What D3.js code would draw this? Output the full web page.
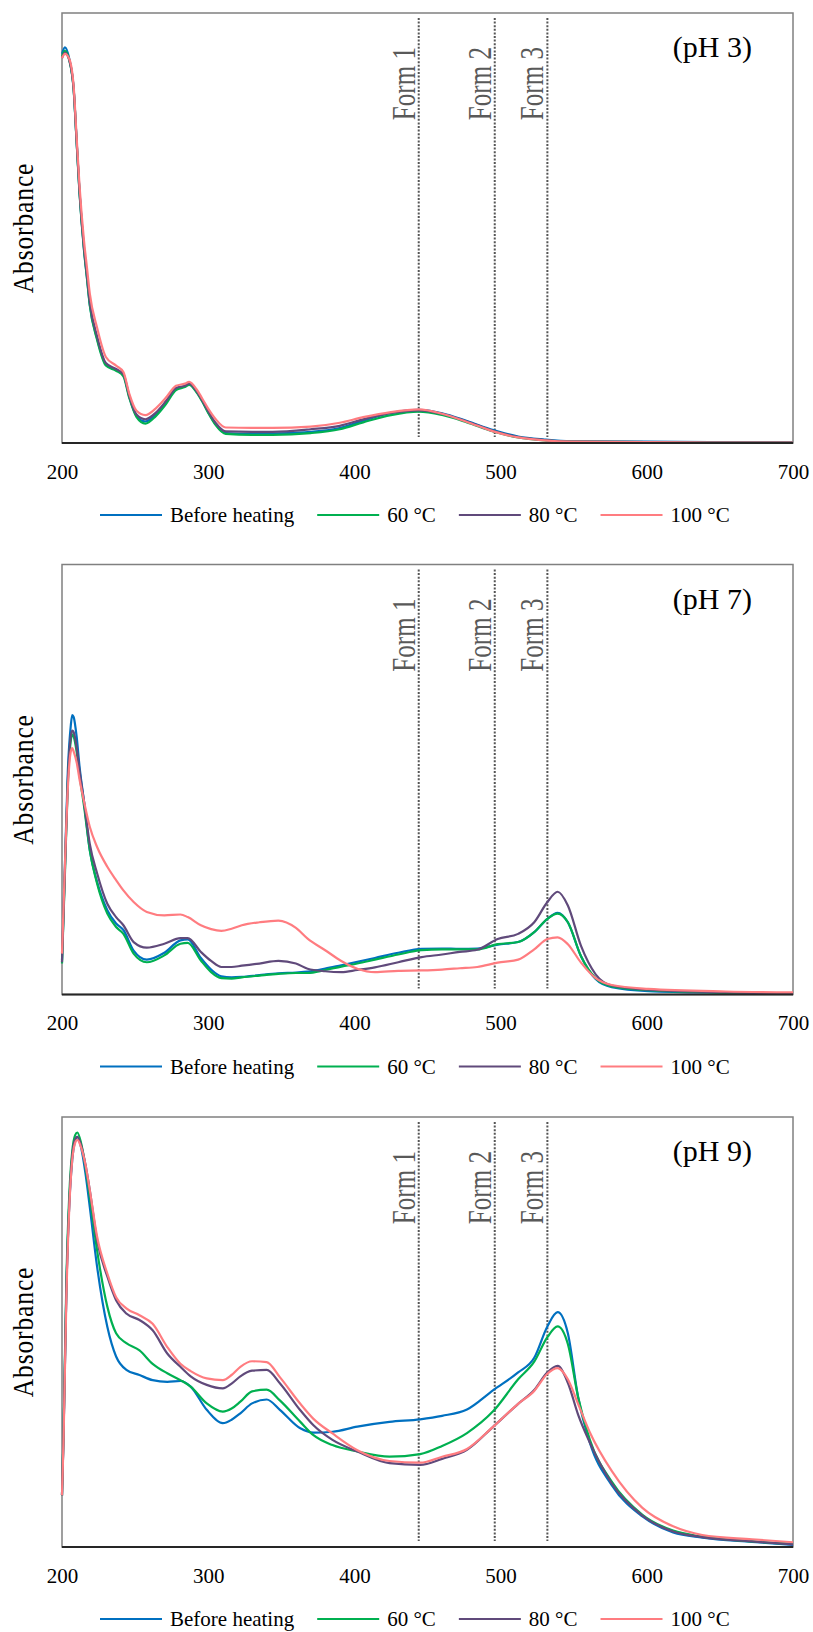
<!DOCTYPE html>
<html>
<head>
<meta charset="utf-8">
<script src="https://cdn.jsdelivr.net/npm/d3@7"></script>
<style>
body { margin: 0; background: #fff; }
svg { display: block; }
svg text { font-family: "Liberation Serif", "Times New Roman", serif !important; }
</style>
</head>
<body>
<script>
// tick labels, legend names, marker lines
var wavelengthTicks = [200, 300, 400, 500, 600, 700];
var seriesNames = ["Before heating", "60 °C", "80 °C", "100 °C"];
var formPositions = [444, 496, 532];
var formNames = ["Form 1", "Form 2", "Form 3"];
var panelNames = ["(pH 3)", "(pH 7)", "(pH 9)"];

// pH 3 (absorbance in arbitrary units, 0..1 of the panel)
var wl3 = [200,202,205,208,210,212,215,217,219,224,230,237,242,246,251,257,264,271,278,284,287,292,296,300,305,312,330,344,370,390,406,425,444,460,477,495,512,530,548,600,650,700];
var ph3Before = [0.905,0.920,0.893,0.822,0.702,0.582,0.452,0.387,0.322,0.243,0.183,0.170,0.158,0.108,0.063,0.050,0.066,0.094,0.126,0.132,0.137,0.120,0.098,0.072,0.044,0.023,0.021,0.022,0.026,0.035,0.052,0.070,0.077,0.069,0.051,0.030,0.015,0.008,0.004,0.003,0.002,0.002];
var ph3At60 = [0.900,0.912,0.890,0.820,0.700,0.580,0.450,0.385,0.320,0.240,0.180,0.168,0.155,0.105,0.060,0.045,0.062,0.090,0.123,0.130,0.135,0.118,0.096,0.070,0.042,0.021,0.019,0.019,0.023,0.032,0.048,0.065,0.073,0.065,0.048,0.027,0.013,0.006,0.003,0.002,0.001,0.001];
var ph3At80 = [0.895,0.908,0.890,0.822,0.703,0.585,0.456,0.392,0.328,0.248,0.186,0.172,0.160,0.110,0.066,0.055,0.070,0.097,0.128,0.133,0.138,0.121,0.099,0.074,0.047,0.027,0.026,0.026,0.032,0.040,0.055,0.070,0.076,0.068,0.050,0.028,0.014,0.007,0.003,0.002,0.001,0.001];
var ph3At100 = [0.895,0.905,0.893,0.828,0.712,0.598,0.472,0.410,0.348,0.268,0.200,0.180,0.165,0.115,0.075,0.065,0.080,0.105,0.133,0.138,0.142,0.125,0.103,0.080,0.056,0.036,0.035,0.035,0.038,0.047,0.060,0.072,0.078,0.068,0.049,0.027,0.013,0.006,0.003,0.002,0.001,0.001];

// pH 7
var wl7 = [200,202,204,206,207,208,210,212,215,219,224,231,237,242,249,258,270,281,286,295,302,309,316,323,335,348,360,368,380,391,402,414,430,446,460,472,484,498,512,523,532,539,546,555,565,576,601,654,700];
var ph7Before = [0.080,0.300,0.520,0.625,0.650,0.645,0.600,0.530,0.450,0.336,0.262,0.196,0.165,0.150,0.102,0.081,0.097,0.126,0.128,0.085,0.058,0.042,0.040,0.041,0.045,0.049,0.051,0.053,0.060,0.068,0.076,0.085,0.097,0.106,0.107,0.106,0.107,0.116,0.122,0.145,0.176,0.190,0.168,0.089,0.036,0.017,0.008,0.004,0.002];
var ph7At60 = [0.072,0.280,0.490,0.590,0.605,0.600,0.565,0.510,0.440,0.336,0.258,0.188,0.157,0.141,0.095,0.075,0.091,0.118,0.120,0.079,0.052,0.038,0.037,0.040,0.044,0.048,0.050,0.050,0.057,0.065,0.072,0.081,0.093,0.103,0.105,0.105,0.105,0.117,0.122,0.145,0.176,0.188,0.168,0.089,0.038,0.019,0.010,0.004,0.002];
var ph7At80 = [0.075,0.290,0.500,0.600,0.614,0.610,0.575,0.520,0.450,0.350,0.282,0.211,0.180,0.161,0.122,0.109,0.118,0.131,0.131,0.099,0.078,0.064,0.064,0.067,0.072,0.078,0.072,0.060,0.054,0.052,0.057,0.063,0.075,0.087,0.093,0.099,0.104,0.129,0.141,0.168,0.215,0.239,0.207,0.113,0.047,0.021,0.011,0.005,0.002];
var ph7At100 = [0.095,0.300,0.480,0.565,0.573,0.565,0.540,0.500,0.450,0.390,0.343,0.297,0.266,0.242,0.215,0.192,0.184,0.186,0.180,0.161,0.152,0.148,0.153,0.161,0.168,0.172,0.155,0.130,0.103,0.078,0.060,0.052,0.055,0.056,0.058,0.061,0.064,0.074,0.081,0.105,0.129,0.133,0.117,0.074,0.038,0.022,0.013,0.007,0.005];

// pH 9
var wl9 = [200,201,203,205,207,209,210.5,213,216,219,224,231,237,244,253,262,272,281,288,299,310,316,322,330,340,349,363,372,385,402,424,445,460,477,495,512,523,532,539,546,553,561,576,597,618,638,672,700];
var ph9Before = [0.120,0.250,0.600,0.800,0.900,0.945,0.954,0.930,0.870,0.791,0.652,0.512,0.443,0.412,0.400,0.388,0.384,0.386,0.373,0.319,0.288,0.296,0.311,0.334,0.343,0.319,0.276,0.266,0.268,0.280,0.291,0.297,0.305,0.320,0.365,0.406,0.440,0.513,0.546,0.497,0.349,0.243,0.144,0.071,0.034,0.022,0.012,0.005];
var ph9At60 = [0.120,0.260,0.620,0.820,0.920,0.958,0.964,0.940,0.885,0.815,0.690,0.559,0.497,0.474,0.457,0.426,0.404,0.388,0.373,0.334,0.315,0.322,0.338,0.362,0.366,0.341,0.291,0.260,0.237,0.222,0.210,0.216,0.235,0.265,0.316,0.390,0.431,0.488,0.513,0.472,0.349,0.250,0.152,0.075,0.038,0.024,0.013,0.007];
var ph9At80 = [0.120,0.250,0.600,0.800,0.910,0.948,0.954,0.935,0.890,0.830,0.713,0.629,0.574,0.543,0.528,0.504,0.450,0.419,0.397,0.377,0.369,0.380,0.397,0.410,0.412,0.381,0.318,0.283,0.249,0.222,0.195,0.191,0.205,0.226,0.280,0.333,0.365,0.406,0.421,0.382,0.308,0.243,0.148,0.073,0.036,0.023,0.013,0.006];
var ph9At100 = [0.120,0.240,0.580,0.790,0.900,0.940,0.947,0.930,0.890,0.830,0.722,0.636,0.581,0.555,0.539,0.519,0.465,0.426,0.409,0.392,0.388,0.400,0.419,0.432,0.430,0.395,0.333,0.298,0.264,0.225,0.200,0.196,0.210,0.228,0.280,0.333,0.363,0.403,0.416,0.390,0.333,0.267,0.177,0.091,0.048,0.028,0.018,0.011];

var colors = ["#0070c0", "#00b050", "#604a7b", "#ff7c80"];
var serif = "'Liberation Serif', 'Times New Roman', serif";

var panels = [
    { name: panelNames[0], wl: wl3, series: [ph3Before, ph3At60, ph3At80, ph3At100], top: 13 },
    { name: panelNames[1], wl: wl7, series: [ph7Before, ph7At60, ph7At80, ph7At100], top: 564.5 },
    { name: panelNames[2], wl: wl9, series: [ph9Before, ph9At60, ph9At80, ph9At100], top: 1117 }
];

var plotH = 430;
var svg = d3.select("body").append("svg")
    .attr("width", 813)
    .attr("height", 1632)
    .attr("font-family", serif);

var x = d3.scaleLinear().domain([200, 700]).range([62, 793]);
var y = d3.scaleLinear().domain([0, 1]).range([plotH, 0]);

function drawPanel(p) {
    var g = svg.append("g").attr("transform", "translate(0," + p.top + ")");

    g.append("rect")
        .attr("x", x(200)).attr("y", 0)
        .attr("width", x(700) - x(200)).attr("height", plotH)
        .attr("fill", "none")
        .attr("stroke", "#808080")
        .attr("stroke-width", 1.5);

    // dotted marker lines for the three forms
    g.selectAll("line.form").data(formPositions).enter().append("line")
        .attr("class", "form")
        .attr("x1", function(d) { return x(d); })
        .attr("x2", function(d) { return x(d); })
        .attr("y1", 5)
        .attr("y2", plotH - 6)
        .attr("stroke", "#555")
        .attr("stroke-width", 2)
        .attr("stroke-dasharray", "2,1.6");

    g.selectAll("text.form").data(formPositions).enter().append("text")
        .attr("class", "form")
        .attr("transform", function(d) { return "translate(" + (x(d) - 4) + ",34) rotate(-90) scale(0.76,1)"; })
        .attr("text-anchor", "end")
        .attr("fill", "#595959")
        .style("font-family", serif)
        .style("font-size", "33px")
        .text(function(d, i) { return formNames[i]; });

    var line = d3.line()
        .x(function(d) { return x(d[0]); })
        .y(function(d) { return y(d[1]); })
        .curve(d3.curveMonotoneX);

    p.series.forEach(function(vals, i) {
        var pts = p.wl.map(function(w, j) { return [w, vals[j]]; });
        g.append("path")
            .datum(pts)
            .attr("d", line)
            .attr("fill", "none")
            .attr("stroke", colors[i])
            .attr("stroke-width", 2.2)
            .attr("stroke-linejoin", "round");
    });

    // bottom axis
    g.append("line")
        .attr("x1", x(200)).attr("x2", x(700))
        .attr("y1", plotH).attr("y2", plotH)
        .attr("stroke", "#262626")
        .attr("stroke-width", 2);

    var axis = g.append("g")
        .attr("transform", "translate(0," + plotH + ")")
        .call(d3.axisBottom(x).tickValues(wavelengthTicks).tickSize(0).tickPadding(21));
    axis.attr("font-family", serif);
    axis.select(".domain").remove();
    axis.selectAll("text")
        .attr("fill", "#000")
        .style("font-size", "21px")
        .style("font-family", serif);

    g.append("text")
        .attr("transform", "translate(23," + (plotH / 2) + ") rotate(-90) scale(0.88,1)")
        .attr("text-anchor", "middle")
        .attr("dy", "0.35em")
        .style("font-family", serif)
        .style("font-size", "29px")
        .style("letter-spacing", "1px")
        .text("Absorbance");

    g.append("text")
        .attr("x", 752).attr("y", 44)
        .attr("text-anchor", "end")
        .style("font-family", serif)
        .style("font-size", "30px")
        .text(p.name);

    // legend
    var leg = g.append("g").attr("transform", "translate(0," + (plotH + 72) + ")");
    var cx = 100;
    seriesNames.forEach(function(name, i) {
        leg.append("line")
            .attr("x1", cx).attr("x2", cx + 62)
            .attr("y1", 0).attr("y2", 0)
            .attr("stroke", colors[i])
            .attr("stroke-width", 2.2);
        var t = leg.append("text")
            .attr("x", cx + 70).attr("y", 7)
            .style("font-family", serif)
            .style("font-size", "21px")
            .text(name);
        cx += 70 + t.node().getComputedTextLength() + 23;
    });
}

panels.forEach(drawPanel);
</script>
</body>
</html>
